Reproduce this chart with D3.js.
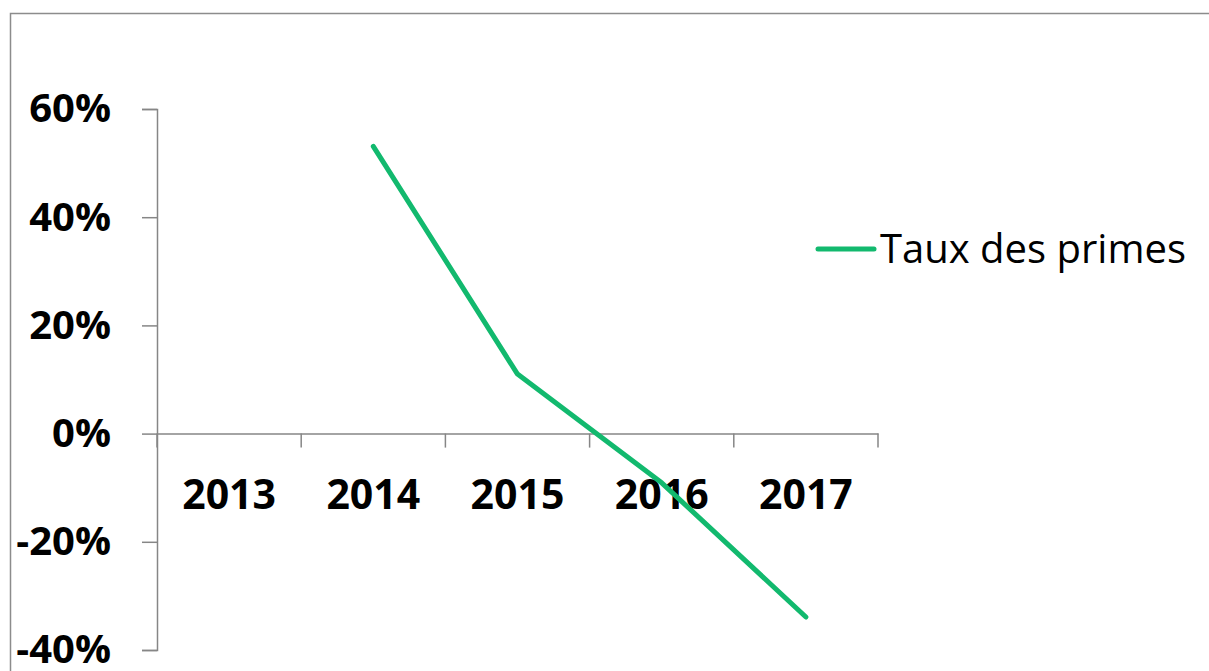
<!DOCTYPE html>
<html>
<head>
<meta charset="utf-8">
<script src="https://cdn.jsdelivr.net/npm/d3@7"></script>
<style>
  html, body { margin: 0; padding: 0; background: #fff; }
  svg { display: block; }
</style>
</head>
<body>
<svg id="chart" width="1209" height="671"></svg>
<script>
// data
const years = ['2013', '2014', '2015', '2016', '2017']
const tauxPrimes = [null, 0.531, 0.11, -0.091, -0.339]
const yTicks = [-0.4, -0.2, 0, 0.2, 0.4, 0.6]
const seriesName = 'Taux des primes'

const svg = d3.select('#chart')
const axisColor = '#868686'
const lineColor = '#12b96e'
const pct = d3.formatLocale({ decimal: '.', thousands: ',', grouping: [3], currency: ['', ''], minus: '-' }).format('.0%')

// outer frame (runs past right/bottom edge in the picture)
svg.append('rect')
  .attr('x', 10.5)
  .attr('y', 13.5)
  .attr('width', 1210)
  .attr('height', 680)
  .style('fill', 'none')
  .style('stroke', '#8c8c8c')
  .style('stroke-width', 1.5)

const x = d3.scaleBand().domain(years).range([157, 878]).padding(0)
const y = d3.scaleLinear().domain([-0.4, 0.6]).range([650, 109])

// y axis
const yAxis = svg.append('g')
  .attr('transform', 'translate(157,0)')
  .call(d3.axisLeft(y)
    .tickValues(yTicks)
    .tickSize(15)
    .tickPadding(31)
    .tickFormat(pct))

yAxis.select('.domain').style('stroke', axisColor).style('stroke-width', 1.5)
yAxis.selectAll('.tick line').style('stroke', axisColor).style('stroke-width', 1.5)
yAxis.selectAll('.tick text')
  .style('font-family', '"Open Sans", "Liberation Sans", sans-serif')
  .style('font-weight', 'bold')
  .style('font-size', '40px')
  .style('fill', '#000')

// x axis at zero
const xAxis = svg.append('g')
  .attr('transform', 'translate(0,' + y(0) + ')')
  .call(d3.axisBottom(x).tickSize(0).tickPadding(46))

xAxis.select('.domain').style('stroke', axisColor).style('stroke-width', 1.5)
xAxis.selectAll('.tick text')
  .style('font-family', '"Open Sans", "Liberation Sans", sans-serif')
  .style('font-weight', 'bold')
  .style('font-size', '41px')
  .style('fill', '#000')

// category boundary ticks
const bounds = years.map(d => x(d)).concat([x.range()[1]])
xAxis.selectAll('.bound')
  .data(bounds)
  .enter()
  .append('line')
  .attr('class', 'bound')
  .attr('x1', d => d)
  .attr('x2', d => d)
  .attr('y1', 0)
  .attr('y2', 14)
  .style('stroke', axisColor)
  .style('stroke-width', 1.5)

// series line
const line = d3.line()
  .defined(d => d.v !== null)
  .x(d => x(d.year) + x.bandwidth() / 2)
  .y(d => y(d.v))

svg.append('path')
  .datum(years.map((yr, i) => ({ year: yr, v: tauxPrimes[i] })))
  .attr('d', line)
  .style('fill', 'none')
  .style('stroke', lineColor)
  .style('stroke-width', 5)
  .style('stroke-linecap', 'round')
  .style('stroke-linejoin', 'round')

// legend
const legend = svg.append('g').attr('transform', 'translate(818,249)')
legend.append('line')
  .attr('x1', 0)
  .attr('x2', 56)
  .attr('y1', 0)
  .attr('y2', 0)
  .style('stroke', lineColor)
  .style('stroke-width', 5)
  .style('stroke-linecap', 'round')
legend.append('text')
  .attr('x', 62)
  .attr('y', 14)
  .text(seriesName)
  .style('font-family', '"Open Sans", "Liberation Sans", sans-serif')
  .style('font-size', '40px')
  .style('fill', '#000')
</script>
</body>
</html>
